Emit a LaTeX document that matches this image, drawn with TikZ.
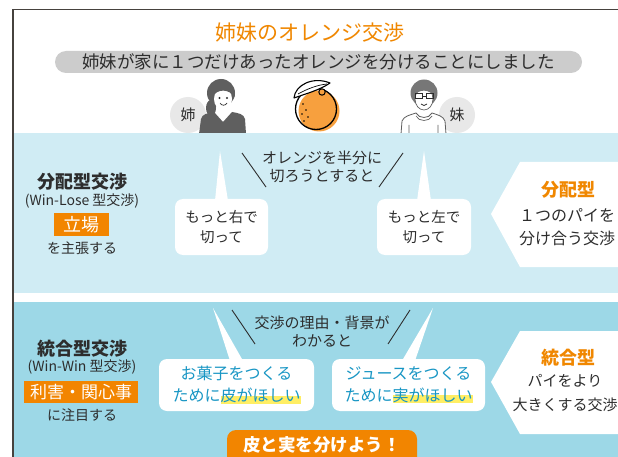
\documentclass[tikz,border=0pt]{standalone}
\usepackage{fontspec}
\setmainfont{Noto Sans CJK JP}

\definecolor{titleorange}{RGB}{240,135,0}
\definecolor{boxorange}{RGB}{242,133,0}
\definecolor{paleblue}{RGB}{208,236,244}
\definecolor{midblue}{RGB}{157,216,231}
\definecolor{pillgray}{RGB}{204,204,204}
\definecolor{badgegray}{RGB}{232,232,232}
\definecolor{inkgray}{RGB}{45,45,45}
\definecolor{framegray}{RGB}{70,66,62}
\definecolor{hairgray}{RGB}{95,95,95}
\definecolor{wishblue}{RGB}{24,150,196}
\definecolor{hlyellow}{RGB}{255,238,100}
\definecolor{peelorange}{RGB}{247,160,62}

% marker pen under a phrase
\newcommand\hilite[1]{\setbox0\hbox{#1}\rlap{\color{hlyellow}\rule[-0.12em]{\wd0}{0.5em}}\box0}

\begin{document}
\begin{tikzpicture}[x=1pt,y=-1pt,
    txt/.style={text=inkgray,align=center,inner sep=0pt},
    bubble/.style={fill=white,rounded corners=8pt,align=center,inner sep=0pt},
    tag/.style={fill=boxorange,text=white,inner sep=0pt},
    badge/.style={circle,fill=badgegray,minimum size=36pt,inner sep=0pt,text=inkgray,font=\fontsize{15}{17}\selectfont}]
    \useasboundingbox (0,0) rectangle (618,457);
    \clip (0,0) rectangle (618,457);
    \fill[white] (0,0) rectangle (618,457);

    % Heading
    \node[text=titleorange,font=\fontsize{21}{24}\selectfont] (title) at (310,33) {姉妹のオレンジ交渉};
    \node[fill=pillgray,rounded corners=11pt,minimum width=527pt,minimum height=22pt,inner sep=0pt,
          text=inkgray,font=\fontsize{17.5}{20}\selectfont] (story) at (318.5,62)
          {姉妹が家に１つだけあったオレンジを分けることにしました};

    % Name badges
    \node[badge] (ane) at (188,115) {姉};
    \node[badge] (imouto) at (457,115) {妹};

    % Elder sister
    \fill[hairgray] (221,93) circle (14);
    \fill[hairgray] (211,108) ellipse (5 and 8);
    \fill[white] (223,99) ellipse (9 and 11);
    \fill[hairgray] (212,97) .. controls (212,82) and (233,81) .. (235,97) .. controls (229,89) and (218,88) .. cycle;
    \fill[inkgray] (219.5,98) circle (1.1) (227,98) circle (1.1);
    \draw[inkgray,line width=0.7pt] (220,103) .. controls (222,106) and (225,106) .. (227,103);
    \fill[white] (219,107) rectangle (227,114);
    \fill[hairgray] (199,134) -- (201,119) .. controls (202,114) and (208,113) .. (214,112)
        -- (223,122) -- (232,112) .. controls (238,113) and (244,114) .. (245,119) -- (246,134) -- cycle;

    % Orange
    \fill[peelorange] (319,111) circle (20.5);
    \draw[black,line width=1.3pt] (316,109) circle (20.5);
    \filldraw[fill=white,draw=black,line width=1.1pt,line join=round]
        (294,98) .. controls (295,85) and (313,76) .. (330,83) .. controls (320,90) and (305,94) .. cycle;
    \draw[black,line width=0.7pt] (298,94) .. controls (307,89) and (317,85) .. (327,84);
    \filldraw[fill=peelorange,draw=black,line width=1pt] (322,92) circle (3.2);
    \fill[black] (303,104) circle (0.9) (306,110) circle (0.9) (302,114) circle (0.9)
        (308,117) circle (0.9) (304,121) circle (0.9);

    % Younger sister
    \fill[hairgray!85] (424,93) circle (13.5);
    \filldraw[fill=white,draw=hairgray,line width=0.7pt] (424,99) ellipse (9 and 11);
    \fill[hairgray!85] (414,97) .. controls (413,83) and (435,82) .. (435,97) .. controls (430,89) and (418,88) .. cycle;
    \draw[inkgray,line width=0.8pt] (415,93.5) rectangle (422,98.5) (426,93.5) rectangle (433,98.5) (422,96) -- (426,96);
    \draw[inkgray,line width=0.7pt] (421,104) .. controls (423,106) and (425,106) .. (427,104);
    \filldraw[fill=white,draw=hairgray,line width=0.8pt] (401,134) -- (402,121) .. controls (404,116) and (410,115) .. (416,113)
        .. controls (419,119) and (429,119) .. (432,113) .. controls (438,115) and (443,116) .. (445,121) -- (446,134);
    \draw[hairgray,line width=0.7pt] (416,116) .. controls (419,122) and (429,122) .. (432,116)
        (409,125) -- (409,134) (438,125) -- (438,134);

    % Bands
    \fill[paleblue] (14,133) rectangle (625,293);
    \fill[midblue] (14,302) rectangle (625,465);
    \draw[framegray,line width=1.6pt] (13,465) -- (13,9.5) -- (625,9.5);

    % Distributive negotiation
    \node[txt,font=\bfseries\fontsize{18}{20}\selectfont] (distType) at (82,182) {分配型交渉};
    \node[txt,font=\fontsize{14}{16}\selectfont] (distAlias) at (82,201) {(Win-Lose 型交渉)};
    \node[tag,minimum width=55pt,minimum height=23pt,font=\fontsize{18}{20}\selectfont] (stance) at (81.5,224.5) {立場};
    \node[txt,font=\fontsize{14}{16}\selectfont] (stanceNote) at (82,248) {を主張する};

    \node[txt,font=\fontsize{15}{18}\selectfont] (halfCut) at (322,167) {オレンジを半分に\\切ろうとすると};
    \draw[inkgray,line width=0.9pt] (242,153) -- (266,187);
    \draw[inkgray,line width=0.9pt] (403,153) -- (379,187);

    \node[bubble,minimum width=93pt,minimum height=56pt,text=inkgray,font=\fontsize{14.5}{20}\selectfont] (askRight) at (221.5,227) {もっと右で\\切って};
    \fill[white] (220,151) -- ([xshift=-6.5pt,yshift=-2pt]askRight.north) -- ([xshift=6.5pt,yshift=-2pt]askRight.north) -- cycle;
    \node[bubble,minimum width=94pt,minimum height=56pt,text=inkgray,font=\fontsize{14.5}{20}\selectfont] (askLeft) at (424,227) {もっと左で\\切って};
    \fill[white] (424,151) -- ([xshift=-7pt,yshift=-2pt]askLeft.north) -- ([xshift=7pt,yshift=-2pt]askLeft.north) -- cycle;

    \fill[white] (491,214) -- (520,162) -- (625,162) -- (625,267) -- (520,267) -- cycle;
    \node[txt,text=titleorange,font=\bfseries\fontsize{18}{20}\selectfont] (distName) at (568,190) {分配型};
    \node[txt,font=\fontsize{16}{23}\selectfont] (distGist) at (567,227) {１つのパイを\\分け合う交渉};

    % Integrative negotiation
    \node[txt,font=\bfseries\fontsize{18}{20}\selectfont] (intType) at (82,349) {統合型交渉};
    \node[txt,font=\fontsize{14}{16}\selectfont] (intAlias) at (82,367) {(Win-Win 型交渉)};
    \node[tag,minimum width=114pt,minimum height=22pt,font=\fontsize{17}{20}\selectfont] (interest) at (81,392) {利害・関心事};
    \node[txt,font=\fontsize{14}{16}\selectfont] (interestNote) at (82,415) {に注目する};

    \node[txt,font=\fontsize{15}{18}\selectfont] (reason) at (322,331) {交渉の理由・背景が\\わかると};
    \draw[inkgray,line width=0.9pt] (232,310) -- (255,344);
    \draw[inkgray,line width=0.9pt] (410,310) -- (388,344);

    \node[bubble,minimum width=155pt,minimum height=52pt,text=wishblue,font=\fontsize{16}{22}\selectfont] (wantPeel) at (236.5,385) {お菓子をつくる\\ために\hilite{皮がほしい}};
    \fill[white] (213,308) -- ([xshift=-6.5pt,yshift=-2pt]wantPeel.north) -- ([xshift=6.5pt,yshift=-2pt]wantPeel.north) -- cycle;
    \node[bubble,minimum width=153pt,minimum height=52pt,text=wishblue,font=\fontsize{16}{22}\selectfont] (wantFruit) at (408.5,385) {ジュースをつくる\\ために\hilite{実がほしい}};
    \fill[white] (433,308) -- ([xshift=-6.5pt,yshift=-2pt]wantFruit.north) -- ([xshift=6.5pt,yshift=-2pt]wantFruit.north) -- cycle;

    \fill[white] (491,382) -- (520,331) -- (625,331) -- (625,434) -- (520,434) -- cycle;
    \node[txt,text=titleorange,font=\bfseries\fontsize{18}{20}\selectfont] (intName) at (568,358) {統合型};
    \node[txt,font=\fontsize{15}{24}\selectfont] (intGist) at (565,393) {パイをより\\大きくする交渉};

    % Conclusion
    \fill[boxorange,rounded corners=9pt] (227,430) rectangle (417,475);
    \node[txt,text=white,font=\bfseries\fontsize{17.5}{20}\selectfont] (split) at (322,445) {皮と実を分けよう！};
\end{tikzpicture}
\end{document}
